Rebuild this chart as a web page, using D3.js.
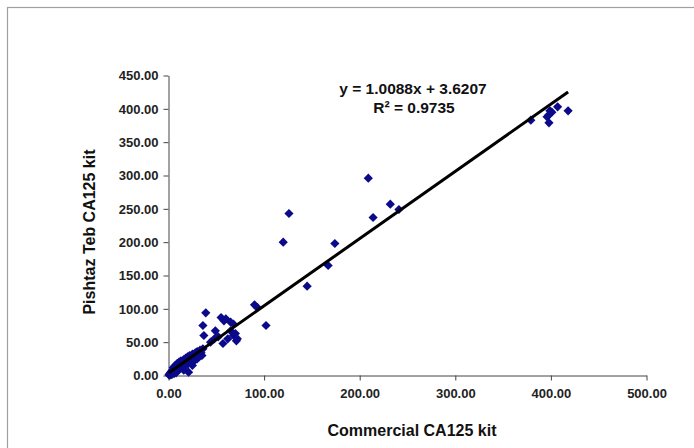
<!DOCTYPE html>
<html><head><meta charset="utf-8">
<script src="https://cdn.jsdelivr.net/npm/d3@7"></script>
<style>body{margin:0;background:#fff;} svg{display:block;font-family:"Liberation Sans",Arial,sans-serif;}</style>
</head><body>
<svg id="c" width="694" height="448"></svg>
<script>
// Commercial CA125 kit (x) vs Pishtaz Teb CA125 kit (y)
const commercial = [0.5,1,1.5,2,2.5,3,3,4,4,5,5,6,6,7,7,8,8,9,9,10,10,11,12,12,13,14,14,15,16,16,17,18,18,19,20,20,21,22,22,23,24,25,25,26,27,28,29,30,30,31,32,33,34,35,36,
  37,36,39,44,48,49,52,55,58,60,57,62,65,65,68,68,70,71,72,
  90,93,102,
  120,126,145,167,174,209,214,232,241,
  379,396,398,398,399,401,407,418];
const pishtaz = [1,2,0.5,4,3,1.5,6,2,8,5,12,3,9,6,15,10,4,12,18,8,14,20,10,16,22,12,18,15,24,8,20,14,26,22,18,28,5,24,30,20,26,32,15,28,22,34,30,25,36,32,28,38,34,30,40,
  60,75,94,50,55,67,58,87,82,85,48,55,80,67,77,60,63,52,55,
  106,102,75,
  200,243,134,165,198,296,237,257,249,
  383,388,379,391,397,395,403,397];
const xTicks = [0,100,200,300,400,500];
const yTicks = [0,50,100,150,200,250,300,350,400,450];
const slope = 1.0088, intercept = 3.6207;
const eqText = "y = 1.0088x + 3.6207";
const r2Text = "R² = 0.9735";
const xTitle = "Commercial CA125 kit";
const yTitle = "Pishtaz Teb CA125 kit";

const svg = d3.select("#c");
// outer chart border (top & left visible)
svg.append("rect").attr("x",7.5).attr("y",7.5).attr("width",720).attr("height",480)
  .attr("fill","none").attr("stroke","#a0a0a0").attr("stroke-width",1.2);

const x = d3.scaleLinear().domain([0,500]).range([168.5,646.5]);
const y = d3.scaleLinear().domain([0,450]).range([375.5,75.5]);

const fmt = d3.format(".2f");
const gx = svg.append("g").attr("transform","translate(0,375.5)")
  .call(d3.axisBottom(x).tickValues(xTicks).tickFormat(fmt).tickSize(5).tickSizeOuter(0));
const gy = svg.append("g").attr("transform","translate(168.5,0)")
  .call(d3.axisLeft(y).tickValues(yTicks).tickFormat(fmt).tickSize(5).tickSizeOuter(0));
[gx,gy].forEach(g=>{
  g.select(".domain").attr("stroke","#444");
  g.selectAll(".tick line").attr("stroke","#444");
  g.selectAll("text").attr("font-family","'Liberation Sans',Arial,sans-serif")
    .attr("font-size",13).attr("font-weight","bold").attr("fill","#222");
});
gx.selectAll("text").attr("dy","1.15em");
gy.selectAll("text").attr("dx","-0.15em");

// points
const data = commercial.map((v,i)=>[v,pishtaz[i]]);
const r = 4.6;
svg.append("g").selectAll("path").data(data).join("path")
  .attr("transform",d=>`translate(${x(d[0])},${y(d[1])})`)
  .attr("d",`M0,${-r}L${r},0L0,${r}L${-r},0Z`)
  .attr("fill","#0a0a8a");

// regression line
const xMin = d3.min(commercial), xMax = d3.max(commercial);
svg.append("line")
  .attr("x1",x(xMin)).attr("y1",y(slope*xMin+intercept))
  .attr("x2",x(xMax)).attr("y2",y(slope*xMax+intercept))
  .attr("stroke","#000").attr("stroke-width",3);

// equation
svg.append("text").attr("x",413).attr("y",94).attr("text-anchor","middle")
  .attr("font-size",15.5).attr("font-weight","bold").attr("fill","#111").text(eqText);
svg.append("text").attr("x",414).attr("y",113).attr("text-anchor","middle")
  .attr("font-size",15.5).attr("font-weight","bold").attr("fill","#111").text(r2Text);

// axis titles
svg.append("text").attr("x",412).attr("y",436).attr("text-anchor","middle")
  .attr("font-size",16).attr("font-weight","bold").attr("fill","#111").text(xTitle);
svg.append("text").attr("transform","translate(95,232) rotate(-90)").attr("text-anchor","middle")
  .attr("font-size",16).attr("font-weight","bold").attr("fill","#111").text(yTitle);
</script>
</body></html>
